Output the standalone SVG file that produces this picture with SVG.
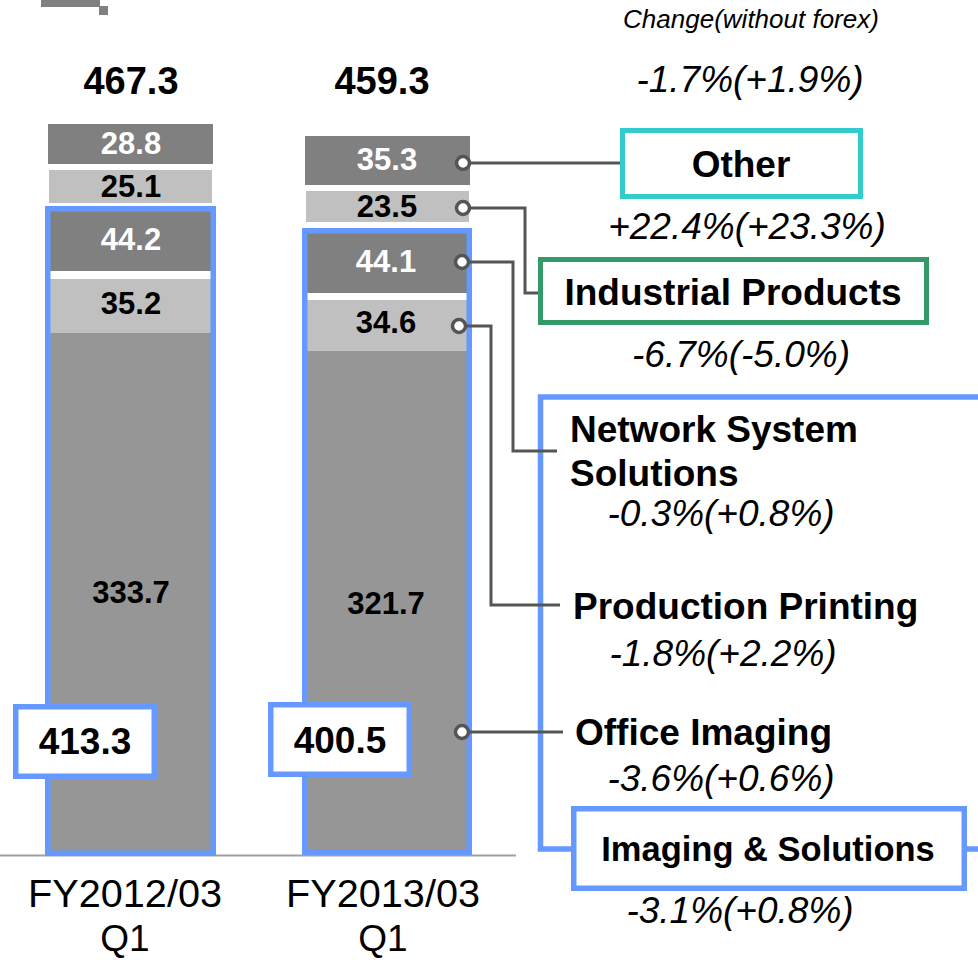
<svg xmlns="http://www.w3.org/2000/svg" width="978" height="960" viewBox="0 0 978 960">
<style>
text{font-family:"Liberation Sans",Arial,Helvetica,sans-serif;}
.tot{font-size:38px;font-weight:bold;text-anchor:middle;fill:#000}
.v{font-size:31px;font-weight:bold;text-anchor:middle;fill:#000}
.vw{fill:#fff}
.box{font-size:37px;font-weight:bold;text-anchor:middle;fill:#000}
.lab{font-size:37px;font-weight:bold;fill:#000}
.pct{font-size:37px;font-style:italic;text-anchor:middle;fill:#000}
.ax{font-size:38px;text-anchor:middle;fill:#000}
.dk{fill:#808080}
.lt{fill:#C0C0C0}
.mn{fill:#969696}
.blue{fill:none;stroke:#6699FF;stroke-width:5.5}
.bbox{fill:#fff;stroke:#6699FF;stroke-width:5.5}
.conn{fill:none;stroke:#555555;stroke-width:3}
.dot{fill:#fff;stroke:#555555;stroke-width:3.5}
</style>

<g id="corner-mark">
<rect x="41" y="0" width="59" height="7" fill="#808080"/>
<rect x="99" y="6" width="9" height="9" fill="#808080"/>
</g>

<text x="751" y="28" style="font-size:26px;font-style:italic;text-anchor:middle">Change(without forex)</text>
<text class="pct" x="750" y="92">-1.7%(+1.9%)</text>

<line id="baseline" x1="0" y1="855.5" x2="516" y2="855.5" stroke="#A0A0A0" stroke-width="2"/>

<g id="bar-fy2012">
<rect class="dk" x="48" y="124" width="165" height="40"/>
<rect class="lt" x="49" y="170" width="163" height="33"/>
<rect class="mn" x="50" y="211" width="161" height="642"/>
<rect class="dk" x="50" y="211" width="161" height="60"/>
<rect fill="#fff" x="50" y="271" width="161" height="8"/>
<rect class="lt" x="50" y="279" width="161" height="54"/>
<rect class="blue" x="47.75" y="208.75" width="165.5" height="644.5"/>
<text class="tot" x="131" y="94">467.3</text>
<text class="v vw" x="131" y="154">28.8</text>
<text class="v" x="131" y="197">25.1</text>
<text class="v vw" x="131" y="250">44.2</text>
<text class="v" x="131" y="314">35.2</text>
<text class="v" x="131" y="603">333.7</text>
</g>

<g id="bar-fy2013">
<rect class="dk" x="305" y="136" width="165" height="49"/>
<rect class="lt" x="306" y="191" width="163" height="31"/>
<rect class="mn" x="307" y="233" width="160" height="620"/>
<rect class="dk" x="307" y="233" width="160" height="60"/>
<rect fill="#fff" x="307" y="293" width="160" height="7"/>
<rect class="lt" x="307" y="300" width="160" height="51"/>
<rect class="blue" x="304.75" y="230.75" width="164.5" height="621.5"/>
<text class="tot" x="382" y="94">459.3</text>
<text class="v vw" x="387" y="170">35.3</text>
<text class="v" x="387" y="217">23.5</text>
<text class="v vw" x="386" y="272">44.1</text>
<text class="v" x="386" y="333">34.6</text>
<text class="v" x="386" y="614">321.7</text>
</g>

<g id="total-fy2012">
<rect class="bbox" x="15.75" y="706.75" width="138.5" height="69.5"/>
<text class="box" x="85" y="754">413.3</text>
</g>
<g id="total-fy2013">
<rect class="bbox" x="270.75" y="704.75" width="138.5" height="69.5"/>
<text class="box" x="340" y="753">400.5</text>
</g>

<text class="ax" x="125" y="907" textLength="194" lengthAdjust="spacingAndGlyphs">FY2012/03</text>
<text class="ax" x="125" y="951" style="font-size:37px">Q1</text>
<text class="ax" x="383" y="907" textLength="194" lengthAdjust="spacingAndGlyphs">FY2013/03</text>
<text class="ax" x="383" y="951" style="font-size:37px">Q1</text>

<g id="imaging-solutions-frame">
<path class="blue" d="M985 397 H540.5 V849 H985"/>
</g>

<g id="connectors">
<path class="conn" d="M463 163 H622"/>
<path class="conn" d="M463 208 H525 V293 H540"/>
<path class="conn" d="M462 262 H513 V451 H557"/>
<path class="conn" d="M459 326 H491 V605 H560"/>
<path class="conn" d="M462 732 H563"/>
</g>

<g id="dots">
<circle class="dot" cx="463" cy="163" r="6.5"/>
<circle class="dot" cx="463" cy="208" r="6.5"/>
<circle class="dot" cx="462" cy="262" r="6.5"/>
<circle class="dot" cx="459" cy="326" r="6.5"/>
<circle class="dot" cx="462" cy="732" r="6.5"/>
</g>

<g id="other">
<rect x="622.5" y="130.5" width="238" height="66" fill="#fff" stroke="#33CCCC" stroke-width="5"/>
<text class="box" x="741" y="177">Other</text>
<text class="pct" x="747" y="239">+22.4%(+23.3%)</text>
</g>

<g id="industrial-products">
<rect x="540.5" y="259.5" width="386" height="63" fill="#fff" stroke="#339966" stroke-width="5"/>
<text class="box" x="733" y="305">Industrial Products</text>
<text class="pct" x="741" y="367">-6.7%(-5.0%)</text>
</g>

<g id="network-system-solutions">
<text class="lab" x="570" y="442">Network System</text>
<text class="lab" x="570" y="486">Solutions</text>
<text class="pct" x="721" y="526">-0.3%(+0.8%)</text>
</g>

<g id="production-printing">
<text class="lab" x="573" y="619">Production Printing</text>
<text class="pct" x="723" y="666">-1.8%(+2.2%)</text>
</g>

<g id="office-imaging">
<text class="lab" x="575" y="745">Office Imaging</text>
<text class="pct" x="721" y="791">-3.6%(+0.6%)</text>
</g>

<g id="imaging-solutions">
<rect class="bbox" x="573.75" y="808.75" width="390.5" height="79.5"/>
<text class="box" x="768" y="861" style="font-size:34.5px">Imaging &amp; Solutions</text>
<text class="pct" x="740" y="923">-3.1%(+0.8%)</text>
</g>
</svg>
